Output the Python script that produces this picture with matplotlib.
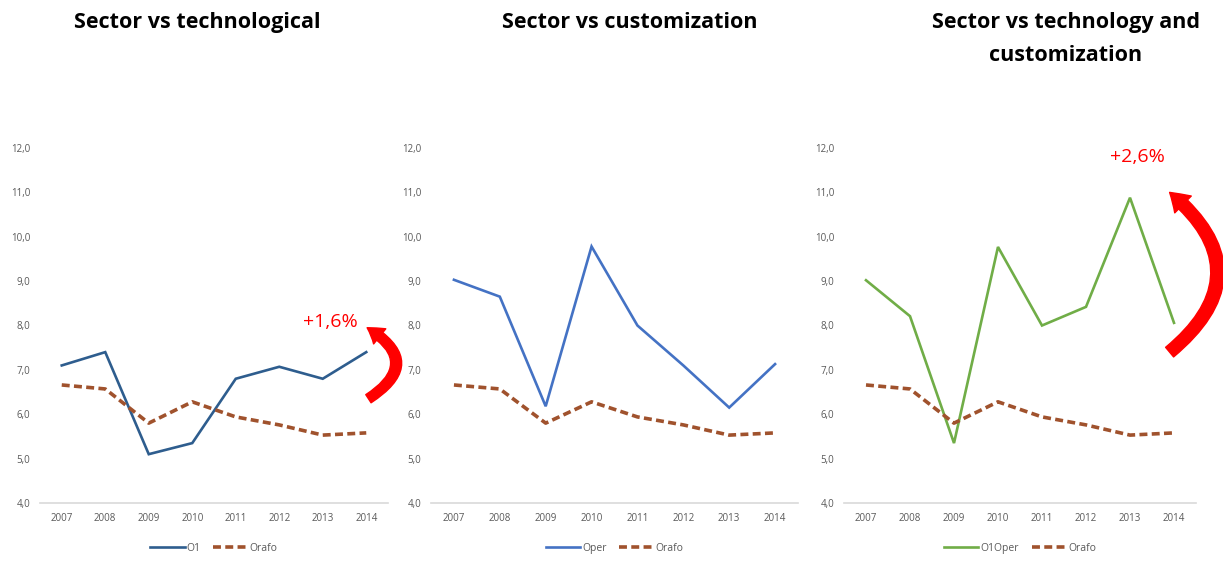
import matplotlib.pyplot as plt
from matplotlib.patches import FancyArrowPatch

years = ["2007", "2008", "2009", "2010", "2011", "2012", "2013", "2014"]
orafo = [6.66, 6.57, 5.8, 6.28, 5.94, 5.76, 5.53, 5.58]
o1 = [7.1, 7.4, 5.1, 5.35, 6.8, 7.07, 6.8, 7.4]
oper = [9.03, 8.65, 6.18, 9.78, 8.0, 7.1, 6.15, 7.13]
o1oper = [9.02, 8.21, 5.35, 9.77, 8.0, 8.42, 10.88, 8.06]
yticks = [4, 5, 6, 7, 8, 9, 10, 11, 12]

titles = ["Sector vs technological", "Sector vs customization",
          "Sector vs technology and\ncustomization"]
series = [("O1", o1, "#2E5D8E"), ("Oper", oper, "#4472C4"),
          ("O1Oper", o1oper, "#70AD47")]
boxes = [(40, 348), (431, 367), (844, 352)]
title_x = [197, 630, 1066]

W, H = 1223, 563
fig = plt.figure(figsize=(W / 100, H / 100), dpi=100)
gray = "#595959"

for i, (name, vals, col) in enumerate(series):
    left, width = boxes[i]
    ax = fig.add_axes([left / W, 60 / H, width / W, 355 / H])
    x = range(len(years))
    ax.plot(x, vals, color=col, lw=1.9, label=name, solid_joinstyle="miter")
    ax.plot(x, orafo, color="#A0522D", lw=2.6, ls=(0, (2.2, 1.2)), label="Orafo")
    ax.set_xlim(-0.5, 7.5)
    ax.set_ylim(4, 12)
    ax.set_xticks(list(x))
    ax.set_xticklabels(years)
    ax.set_yticks(yticks)
    ax.set_yticklabels([f"{v},0" for v in yticks])
    ax.tick_params(length=0, labelsize=7, labelcolor=gray, pad=7)
    for s in ["top", "left", "right"]:
        ax.spines[s].set_visible(False)
    ax.spines["bottom"].set_color("#D9D9D9")
    ax.spines["bottom"].set_linewidth(1.2)
    for t in ax.get_xticklabels() + ax.get_yticklabels():
        t.set_family("Open Sans")
    leg = ax.legend(loc="center", bbox_to_anchor=(0.5, -0.127), ncol=2,
                    frameon=False, handlelength=3.3,
                    columnspacing=1.2, handletextpad=0.2,
                    prop={"family": "Open Sans", "size": 7.5})
    for t in leg.get_texts():
        t.set_color(gray)
    fig.text(title_x[i] / W, 1 - 12 / H, titles[i], ha="center", va="top",
             fontsize=15.5, fontweight="bold", family="Open Sans",
             linespacing=1.75, transform=fig.transFigure)

    # growth arrow and label
    if name == "O1":
        ax.text(6.17, 8.08, "+1,6%", color="red", fontsize=14,
                family="Open Sans", ha="center", va="center", clip_on=False)
        arr = FancyArrowPatch((7.05, 6.35), (7.02, 7.95),
                              connectionstyle="arc3,rad=0.8",
                              arrowstyle="simple,head_width=14,head_length=11,tail_width=7",
                              color="red", shrinkA=0, shrinkB=0, clip_on=False)
        ax.add_patch(arr)
    if name == "O1Oper":
        ax.text(6.18, 11.79, "+2,6%", color="red", fontsize=14,
                family="Open Sans", ha="center", va="center", clip_on=False)
        arr = FancyArrowPatch((6.9, 7.4), (6.9, 11.0),
                              connectionstyle="arc3,rad=0.6",
                              arrowstyle="simple,head_width=17,head_length=13,tail_width=9",
                              color="red", shrinkA=0, shrinkB=0, clip_on=False)
        ax.add_patch(arr)

fig.savefig("out.png", dpi=100)
